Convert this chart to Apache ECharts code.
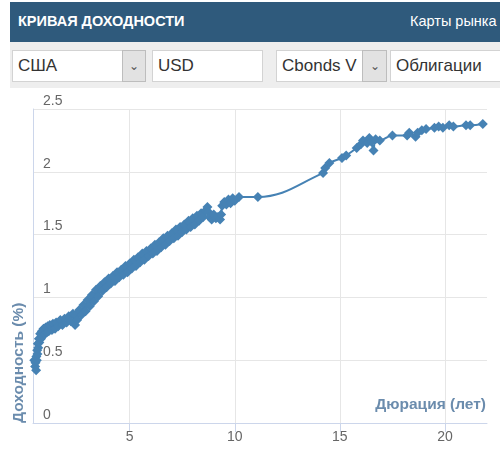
<!DOCTYPE html>
<html><head><meta charset="utf-8">
<script src="https://cdn.jsdelivr.net/npm/echarts@6/dist/echarts.min.js"></script>
<style>
html,body{margin:0;padding:0;background:#fff;width:500px;height:451px;overflow:hidden;font-family:"Liberation Sans",Arial,sans-serif;}
#chart{position:absolute;left:0;top:0;width:500px;height:451px;}
#hdr{position:absolute;left:10px;top:2px;width:490px;height:40px;background:#2f5a7c;color:#fff;z-index:2;overflow:hidden;}
#hdr .t{position:absolute;left:8px;top:11px;font-size:14.5px;font-weight:bold;white-space:nowrap;}
#hdr .m{position:absolute;left:400px;top:11px;font-size:14.5px;white-space:nowrap;}
#bar{position:absolute;left:10px;top:42px;width:490px;height:46px;background:#eeeeee;z-index:2;overflow:hidden;}
.box{position:absolute;top:8px;height:32px;background:#fff;border:1px solid #d3d3d3;box-sizing:border-box;font-size:17px;color:#333;line-height:30px;padding-left:5px;white-space:nowrap;overflow:hidden;}
.arr{position:absolute;top:8px;height:32px;background:#e2e2e2;border:1px solid #bdbdbd;box-sizing:border-box;color:#555;font-size:12px;text-align:center;line-height:30px;}
</style></head><body>
<div id="chart"></div>
<div id="hdr"><span class="t">КРИВАЯ ДОХОДНОСТИ</span><span class="m">Карты рынка</span></div>
<div id="bar">
 <div class="box" style="left:2px;width:134px;">США</div>
 <div class="arr" style="left:112px;width:24px;">&#8964;</div>
 <div class="box" style="left:142px;width:111px;">USD</div>
 <div class="box" style="left:266px;width:87px;">Cbonds V</div>
 <div class="arr" style="left:352px;width:25px;">&#8964;</div>
 <div class="box" style="left:380px;width:115px;">Облигации</div>
</div>
<script>
var durations = [0.46,0.50,0.52,0.55,0.56,0.58,0.60,0.61,0.63,0.65,0.68,0.70,0.74,0.78,0.82,0.86,0.90,0.95,
1.00,1.05,1.10,1.15,1.20,1.30,1.35,1.45,1.50,1.60,1.70,1.80,1.90,2.00,2.10,2.20,2.30,2.40,2.45,2.50,2.60,2.70,2.80,2.90,3.00,3.10,3.20,3.30,3.40,3.50,3.60,3.70,3.80,3.90,4.00,4.10,4.20,4.30,4.40,4.50,4.60,4.70,4.80,4.90,
5.00,5.10,5.20,5.30,5.40,5.50,5.60,5.70,5.80,5.90,6.00,6.10,6.20,6.30,6.40,6.50,6.60,6.70,6.80,6.90,7.00,7.10,7.20,7.30,7.40,7.50,7.60,7.70,7.80,7.90,8.00,8.10,8.20,8.30,8.40,8.50,8.60,8.70,8.75,8.80,8.90,9.00,9.10,9.20,9.30,9.35,9.40,9.50,9.60,9.70,9.80,9.90,10.00,10.20,11.10,
14.20,14.30,14.50,15.10,15.30,15.80,16.00,16.10,16.30,16.40,16.50,16.60,16.70,16.90,17.50,18.20,18.30,18.60,18.70,18.90,19.10,19.50,19.70,19.90,20.20,20.40,21.00,21.20,21.80];
var yields = [0.50,0.45,0.48,0.42,0.53,0.50,0.58,0.55,0.63,0.60,0.67,0.64,0.71,0.67,0.73,0.69,0.75,0.71,
0.76,0.72,0.77,0.73,0.78,0.74,0.79,0.75,0.80,0.77,0.82,0.78,0.83,0.80,0.85,0.81,0.87,0.78,0.86,0.82,0.90,0.86,0.94,0.89,0.98,0.93,1.02,0.97,1.06,1.01,1.09,1.05,1.12,1.08,1.15,1.11,1.17,1.13,1.20,1.16,1.22,1.18,1.25,1.20,
1.27,1.23,1.30,1.25,1.32,1.28,1.35,1.30,1.37,1.33,1.39,1.35,1.42,1.37,1.44,1.40,1.47,1.42,1.49,1.45,1.51,1.47,1.54,1.49,1.56,1.52,1.58,1.54,1.61,1.56,1.63,1.58,1.65,1.61,1.67,1.64,1.69,1.72,1.68,1.64,1.62,1.66,1.63,1.64,1.62,1.66,1.73,1.76,1.74,1.78,1.75,1.79,1.77,1.80,1.80,
1.99,2.03,2.07,2.11,2.13,2.19,2.22,2.25,2.23,2.27,2.24,2.17,2.26,2.25,2.29,2.29,2.31,2.28,2.31,2.33,2.34,2.35,2.36,2.35,2.37,2.36,2.37,2.37,2.38];
var xTicks = [5,10,15,20];
var yTicks = [0,0.5,1,1.5,2,2.5];

var points = durations.map(function(d,i){return [d, yields[i]];});
var chart = echarts.init(document.getElementById('chart'), null, {renderer:'canvas'});
var lblFont = '"Liberation Sans", Arial, sans-serif';
chart.setOption({
  animation:false,
  grid:{left:33,right:13,top:109,bottom:28,containLabel:false},
  xAxis:{type:'value',min:0.4,max:22,
    axisLine:{show:true,lineStyle:{color:'#ccd6eb',width:1}},
    axisTick:{show:true,length:9,lineStyle:{color:'#ccd6eb'},customValues:xTicks},
    axisLabel:{color:'#666',fontSize:14,fontFamily:lblFont,margin:7,customValues:xTicks},
    splitLine:{show:true,lineStyle:{color:'#e6e6e6',width:1}}
  },
  yAxis:{type:'value',min:yTicks[0],max:yTicks[yTicks.length-1],interval:0.5,
    axisLine:{show:true,lineStyle:{color:'#ccd6eb',width:1}},
    axisTick:{show:false},
    axisLabel:{inside:true,color:'#666',fontSize:14,fontFamily:lblFont,margin:10,verticalAlign:'bottom',lineHeight:16,
      formatter:function(v){return String(v);}},
    splitLine:{show:true,lineStyle:{color:'#e6e6e6',width:1}}
  },
  graphic:[
    {type:'text',x:19,y:423,rotation:Math.PI/2,style:{text:'Доходность (%)',fill:'#6b8cad',font:'bold 15.5px "Liberation Sans", Arial, sans-serif',textAlign:'left',textVerticalAlign:'middle'}},
    {type:'text',x:486,y:405,style:{text:'Дюрация (лет)',fill:'#6b8cad',font:'bold 15.5px "Liberation Sans", Arial, sans-serif',textAlign:'right',textVerticalAlign:'middle'}}
  ],
  series:[{type:'line',data:points,smooth:0.4,symbol:'diamond',symbolSize:10,showSymbol:true,
    lineStyle:{color:'#4682b4',width:2},itemStyle:{color:'#4682b4'},z:3}]
});
</script>
</body></html>
